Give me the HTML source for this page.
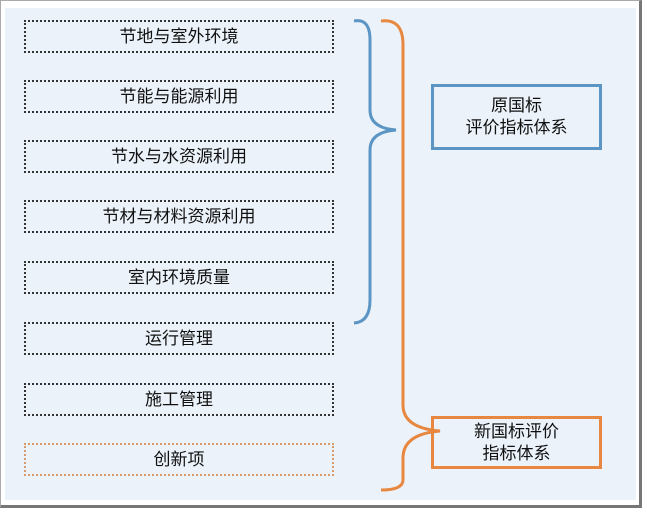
<!DOCTYPE html>
<html><head><meta charset="utf-8"><style>
body{margin:0;width:647px;height:515px;background:#fff;position:relative;overflow:hidden;font-family:"Liberation Sans","Noto Sans CJK SC",sans-serif}
.frame{position:absolute;left:0;top:0;width:642px;height:508px;border:1px solid #aaa;border-right:3px solid #777;border-bottom:3px solid #777;box-sizing:border-box;background:#fff}
.panel{position:absolute;left:5px;top:8px;width:631px;height:492px;background:#ebf2f9}
.b{position:absolute;left:24px;width:310px;height:33px;border:2px dotted #333;box-sizing:border-box;text-align:center;line-height:29px;font-size:17px;color:#111}
.o{border-color:#d99a6a}
.r{position:absolute;left:431px;width:171px;box-sizing:border-box;text-align:center;font-size:17px;color:#111;line-height:22px}
</style></head><body>
<div class="frame"></div><div class="panel"></div>
<div class="b" style="top:20px">节地与室外环境</div>
<div class="b" style="top:80px">节能与能源利用</div>
<div class="b" style="top:140px">节水与水资源利用</div>
<div class="b" style="top:200px">节材与材料资源利用</div>
<div class="b" style="top:261px">室内环境质量</div>
<div class="b" style="top:322px">运行管理</div>
<div class="b" style="top:383px">施工管理</div>
<div class="b o" style="top:443px">创新项</div>
<svg width="647" height="515" style="position:absolute;left:0;top:0">
<path d="M354 21 Q370 18 370 40 L370 110 Q370 128 396 130 Q370 132 370 150 L370 300 Q370 322 354 323" fill="none" stroke="#5b95c4" stroke-width="3"/>
<path d="M381 21 Q403 18 403 45 L403 405 Q403 428 440 431 Q403 434 403 458 L403 480 Q403 490 381 490" fill="none" stroke="#e8873f" stroke-width="3"/>
</svg>
<div class="r" style="top:84px;height:66px;border:3px solid #5b95c4;padding-top:8px">原国标<br>评价指标体系</div>
<div class="r" style="top:416px;height:53px;border:3px solid #e8873f;padding-top:2px">新国标评价<br>指标体系</div>
</body></html>
